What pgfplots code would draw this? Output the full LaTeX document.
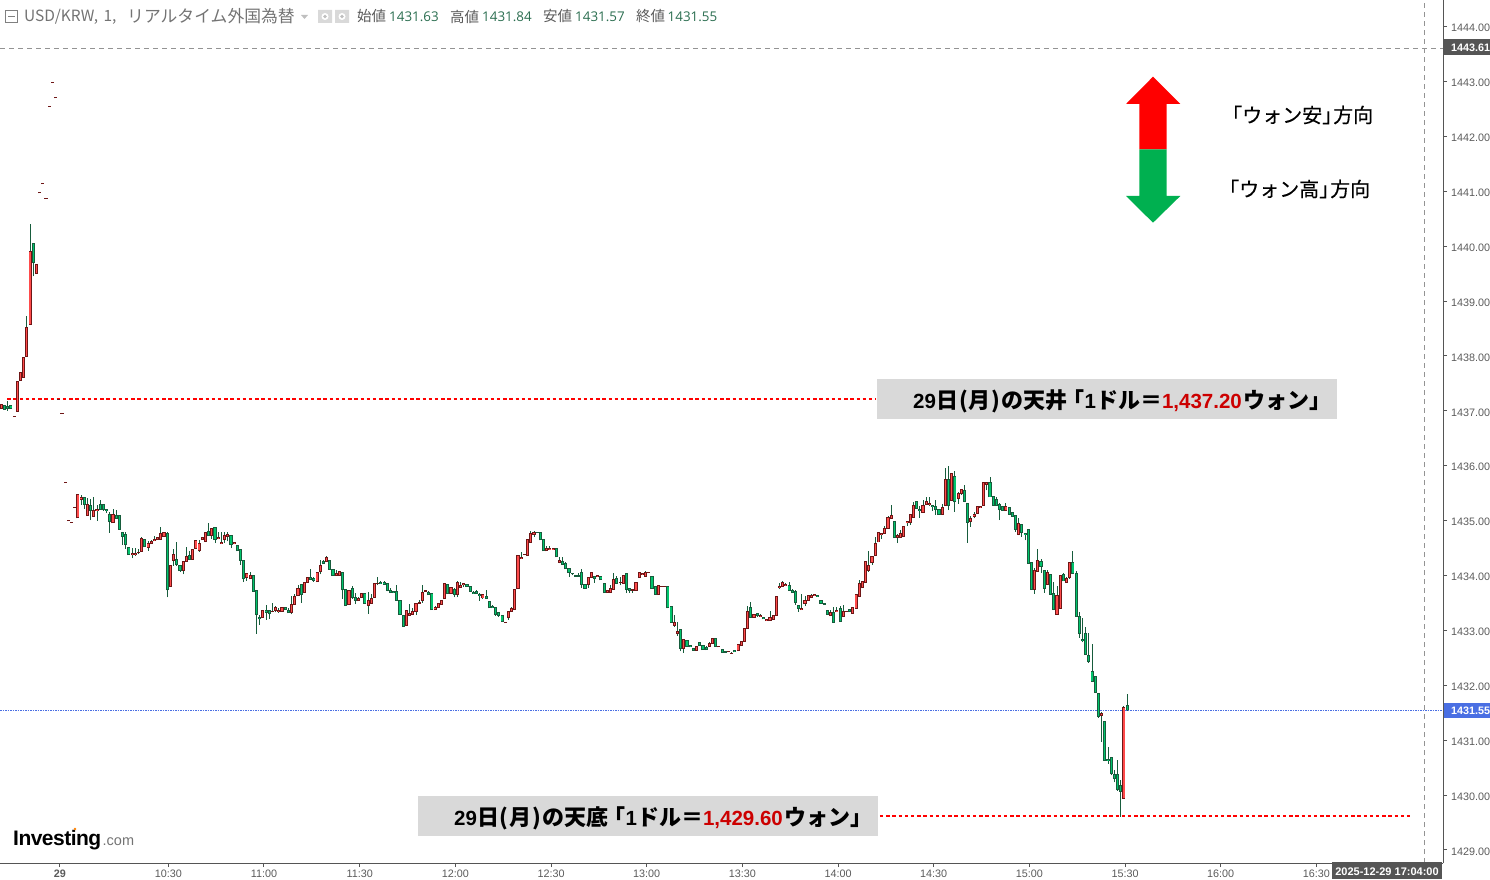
\documentclass[border=0pt]{standalone}
\usepackage{fontspec}
\usepackage{pgfplots}
\usepackage{pgfplotstable}
\pgfplotsset{compat=1.18}
\setmainfont{Liberation Sans}
\newfontfamily\lat{Liberation Sans}
\newfontfamily\hdr{Open Sans}
\newfontfamily\logofont{Liberation Sans}[BoldFeatures={LetterSpace=-2.5}]
\newfontfamily\jp{Noto Sans CJK JP}
\newfontfamily\jpm{Noto Sans CJK JP}[FakeBold=0.3]

\definecolor{wick}{HTML}{175C3C}
\definecolor{upedge}{HTML}{6E1616}
\definecolor{upfill}{HTML}{FF4B4B}
\definecolor{downedge}{HTML}{175C3C}
\definecolor{downfill}{HTML}{00C46C}
\definecolor{axisgrey}{HTML}{555555}
\definecolor{labelgrey}{HTML}{5A5A5A}
\definecolor{bandgrey}{HTML}{D9D9D9}
\definecolor{pricered}{HTML}{CC0000}
\definecolor{lastblue}{HTML}{4A6FE3}
\definecolor{ohlcgreen}{HTML}{2B6E50}
\definecolor{arrowgreen}{HTML}{00B050}

\newcommand\latb[1]{{\lat\bfseries\fontsize{20.5}{24}\selectfont #1}}
% text of the two grey bands: word, price
\newcommand\bandtext[2]{\fontsize{22}{24}\selectfont\jp\bfseries\latb{29}日\hspace{1pt}(\hspace{1pt}月\hspace{1pt})\hspace{1pt}の#1\hspace{-5pt}「\latb{1}ドル＝\textcolor{pricered}{\latb{#2}}\hspace{2pt}ウォン」}

% x = minutes after 10:30, columns: open high low close
% rising candles (red on this chart)
\pgfplotstableread{
x o h l c
-52 1437.04 1437.12 1437.04 1437.12
-48 1436.90 1436.90 1436.90 1436.90
-47 1436.99 1437.54 1436.99 1437.54
-46 1437.55 1437.70 1437.55 1437.70
-45 1437.61 1437.98 1437.61 1437.98
-44 1437.99 1438.72 1437.99 1438.52
-43 1438.57 1440.41 1438.57 1439.91
-41 1439.50 1439.67 1439.50 1439.67
-40 1440.97 1440.97 1440.97 1440.97
-39 1441.14 1441.14 1441.14 1441.14
-38 1440.87 1440.87 1440.87 1440.87
-37 1442.55 1442.55 1442.55 1442.55
-36 1442.98 1442.98 1442.98 1442.98
-35 1442.70 1442.70 1442.70 1442.70
-34 1437.21 1437.21 1437.21 1437.21
-33 1436.96 1436.96 1436.96 1436.96
-32 1435.70 1435.70 1435.70 1435.70
-31 1435.00 1435.00 1435.00 1435.00
-30 1434.97 1434.97 1434.97 1434.97
-29 1435.24 1435.24 1435.24 1435.24
-28 1435.05 1435.48 1435.05 1435.48
-27 1435.38 1435.46 1435.29 1435.43
-25 1435.09 1435.41 1435.09 1435.30
-23 1435.07 1435.43 1435.07 1435.19
-22 1435.18 1435.29 1435.00 1435.21
-17 1434.96 1435.21 1434.96 1435.12
-11 1434.38 1434.50 1434.31 1434.40
-10 1434.38 1434.50 1434.36 1434.40
-9 1434.41 1434.48 1434.39 1434.42
-8 1434.44 1434.70 1434.44 1434.68
-6 1434.51 1434.63 1434.45 1434.58
-5 1434.58 1434.65 1434.58 1434.62
-4 1434.63 1434.72 1434.63 1434.66
-3 1434.65 1434.70 1434.65 1434.70
-2 1434.66 1434.89 1434.66 1434.77
-1 1434.71 1434.80 1434.71 1434.79
1 1433.80 1434.20 1433.80 1434.19
2 1434.27 1434.48 1434.18 1434.39
5 1434.09 1434.26 1434.02 1434.26
6 1434.26 1434.52 1434.26 1434.35
8 1434.30 1434.48 1434.30 1434.48
9 1434.49 1434.64 1434.49 1434.64
10 1434.45 1434.65 1434.43 1434.59
11 1434.65 1434.71 1434.65 1434.70
12 1434.62 1434.80 1434.61 1434.79
14 1434.73 1434.86 1434.67 1434.86
16 1434.67 1434.80 1434.66 1434.70
17 1434.58 1434.80 1434.58 1434.61
18 1434.65 1434.79 1434.59 1434.72
19 1434.71 1434.80 1434.62 1434.75
21 1434.58 1434.61 1434.58 1434.61
25 1433.96 1434.04 1433.90 1434.04
26 1433.94 1434.06 1433.94 1434.00
30 1433.23 1433.38 1433.23 1433.37
33 1433.34 1433.50 1433.33 1433.35
34 1433.36 1433.44 1433.33 1433.42
35 1433.35 1433.41 1433.32 1433.37
36 1433.34 1433.42 1433.34 1433.42
39 1433.32 1433.63 1433.29 1433.47
40 1433.47 1433.66 1433.47 1433.62
41 1433.63 1433.82 1433.63 1433.77
43 1433.69 1433.89 1433.69 1433.88
44 1433.87 1433.97 1433.87 1433.97
47 1433.89 1434.07 1433.89 1434.06
48 1434.07 1434.28 1434.02 1434.19
50 1434.25 1434.36 1434.25 1434.33
53 1434.00 1434.10 1434.00 1434.03
54 1434.00 1434.08 1434.00 1434.07
57 1433.47 1433.73 1433.47 1433.73
60 1433.54 1433.60 1433.54 1433.58
61 1433.60 1433.67 1433.60 1433.67
63 1433.45 1433.70 1433.30 1433.55
64 1433.49 1433.66 1433.49 1433.58
65 1433.60 1433.87 1433.60 1433.86
66 1433.85 1433.97 1433.82 1433.86
75 1433.09 1433.38 1433.09 1433.37
76 1433.28 1433.48 1433.28 1433.30
77 1433.29 1433.40 1433.29 1433.35
78 1433.34 1433.50 1433.28 1433.49
79 1433.49 1433.55 1433.49 1433.50
80 1433.54 1433.83 1433.50 1433.69
81 1433.71 1433.72 1433.71 1433.72
84 1433.38 1433.44 1433.38 1433.42
85 1433.41 1433.49 1433.41 1433.49
86 1433.47 1433.55 1433.47 1433.55
87 1433.58 1433.86 1433.58 1433.86
89 1433.67 1433.79 1433.67 1433.79
91 1433.65 1433.90 1433.60 1433.88
92 1433.78 1433.88 1433.78 1433.81
93 1433.83 1433.86 1433.79 1433.86
99 1433.59 1433.66 1433.57 1433.66
106 1433.14 1433.15 1433.14 1433.15
107 1433.23 1433.35 1433.19 1433.35
108 1433.35 1433.42 1433.35 1433.39
109 1433.38 1433.75 1433.38 1433.75
110 1433.76 1434.37 1433.76 1434.37
111 1434.31 1434.42 1434.31 1434.33
112 1434.38 1434.39 1434.38 1434.39
113 1434.36 1434.67 1434.36 1434.65
114 1434.60 1434.81 1434.60 1434.77
115 1434.75 1434.81 1434.70 1434.78
119 1434.45 1434.53 1434.45 1434.50
120 1434.48 1434.54 1434.48 1434.50
121 1434.48 1434.51 1434.47 1434.50
123 1434.24 1434.33 1434.22 1434.28
132 1433.84 1433.97 1433.78 1433.97
133 1433.97 1434.06 1433.97 1434.06
135 1433.98 1434.01 1433.98 1434.00
138 1433.69 1433.72 1433.69 1433.72
139 1433.69 1433.83 1433.69 1433.76
140 1433.75 1434.05 1433.75 1433.93
142 1433.87 1433.97 1433.82 1433.88
143 1433.86 1434.00 1433.86 1434.00
146 1433.73 1433.74 1433.69 1433.74
147 1433.73 1433.88 1433.73 1433.88
148 1433.97 1434.06 1433.97 1434.06
149 1434.02 1434.04 1434.02 1434.04
150 1433.99 1434.08 1433.99 1434.06
151 1434.05 1434.06 1434.05 1434.06
154 1433.66 1433.82 1433.66 1433.82
155 1433.80 1433.80 1433.80 1433.80
156 1433.80 1433.80 1433.80 1433.80
159 1433.09 1433.28 1433.07 1433.15
160 1432.94 1433.16 1432.90 1432.98
162 1432.67 1432.83 1432.59 1432.83
166 1432.64 1432.71 1432.64 1432.71
170 1432.71 1432.78 1432.71 1432.76
171 1432.76 1432.86 1432.76 1432.86
173 1432.70 1432.71 1432.70 1432.71
176 1432.61 1432.62 1432.61 1432.62
177 1432.58 1432.61 1432.58 1432.58
179 1432.63 1432.75 1432.63 1432.75
180 1432.72 1432.80 1432.72 1432.80
181 1432.80 1433.03 1432.80 1433.03
182 1433.04 1433.45 1433.04 1433.35
184 1433.24 1433.29 1433.24 1433.29
186 1433.26 1433.30 1433.25 1433.28
188 1433.18 1433.20 1433.18 1433.20
189 1433.18 1433.35 1433.18 1433.24
190 1433.20 1433.27 1433.20 1433.27
191 1433.27 1433.62 1433.27 1433.62
192 1433.78 1433.87 1433.75 1433.80
193 1433.80 1433.90 1433.80 1433.88
194 1433.82 1433.86 1433.82 1433.84
199 1433.38 1433.67 1433.38 1433.40
200 1433.49 1433.63 1433.44 1433.54
201 1433.55 1433.65 1433.55 1433.64
202 1433.60 1433.66 1433.60 1433.63
203 1433.64 1433.66 1433.64 1433.66
208 1433.27 1433.37 1433.27 1433.32
210 1433.34 1433.43 1433.34 1433.37
212 1433.25 1433.46 1433.25 1433.35
213 1433.34 1433.35 1433.34 1433.35
215 1433.31 1433.42 1433.31 1433.42
216 1433.40 1433.66 1433.40 1433.65
217 1433.62 1433.92 1433.62 1433.86
218 1433.78 1433.89 1433.78 1433.89
219 1433.88 1434.26 1433.88 1434.26
220 1434.09 1434.45 1434.07 1434.19
221 1434.23 1434.35 1434.20 1434.35
222 1434.36 1434.70 1434.36 1434.59
223 1434.61 1434.79 1434.61 1434.79
224 1434.75 1434.77 1434.67 1434.77
225 1434.77 1434.90 1434.77 1434.86
226 1434.86 1435.09 1434.86 1435.06
227 1435.04 1435.29 1435.04 1435.10
229 1434.69 1434.76 1434.59 1434.73
230 1434.70 1434.83 1434.70 1434.76
231 1434.71 1434.90 1434.71 1434.90
232 1434.96 1434.98 1434.91 1434.98
233 1434.96 1435.12 1434.92 1435.12
234 1435.06 1435.34 1435.06 1435.28
237 1435.15 1435.38 1435.15 1435.28
238 1435.29 1435.43 1435.29 1435.34
239 1435.30 1435.43 1435.27 1435.32
243 1435.12 1435.30 1435.12 1435.24
244 1435.28 1435.96 1435.28 1435.75
246 1435.37 1435.86 1435.37 1435.86
248 1435.40 1435.52 1435.31 1435.49
249 1435.50 1435.58 1435.47 1435.56
252 1434.98 1435.09 1434.89 1435.04
253 1435.07 1435.15 1435.04 1435.12
254 1435.13 1435.26 1435.13 1435.26
255 1435.24 1435.26 1435.24 1435.26
256 1435.28 1435.69 1435.28 1435.69
257 1435.66 1435.69 1435.55 1435.69
263 1435.19 1435.32 1435.19 1435.26
267 1434.75 1435.04 1434.73 1434.95
272 1433.75 1434.13 1433.67 1434.10
273 1434.07 1434.49 1434.07 1434.28
276 1433.84 1434.10 1433.84 1434.06
279 1433.29 1433.81 1433.29 1433.64
280 1433.40 1434.00 1433.40 1434.00
282 1433.88 1433.97 1433.88 1433.95
283 1433.97 1434.24 1433.94 1434.24
293 1431.45 1431.51 1430.97 1431.49
300 1429.94 1431.62 1429.94 1431.60
}\upbars

% falling candles (green on this chart)
\pgfplotstableread{
x o h l c
-51 1437.09 1437.09 1437.02 1437.03
-50 1437.08 1437.17 1437.00 1437.04
-49 1437.09 1437.09 1437.04 1437.04
-42 1440.04 1440.04 1439.45 1439.70
-26 1435.43 1435.43 1435.22 1435.29
-24 1435.28 1435.40 1435.01 1435.18
-21 1435.30 1435.38 1435.20 1435.20
-20 1435.30 1435.30 1435.18 1435.21
-19 1435.21 1435.21 1435.14 1435.19
-18 1435.12 1435.15 1434.78 1434.98
-16 1435.10 1435.20 1435.04 1435.04
-15 1435.10 1435.10 1434.84 1434.84
-14 1434.79 1434.79 1434.56 1434.71
-13 1434.74 1434.80 1434.49 1434.56
-12 1434.51 1434.51 1434.38 1434.38
-7 1434.66 1434.66 1434.52 1434.52
0 1434.77 1434.79 1433.60 1433.74
3 1434.30 1434.61 1434.18 1434.20
4 1434.19 1434.20 1434.07 1434.09
7 1434.37 1434.44 1434.28 1434.30
13 1434.81 1434.96 1434.72 1434.72
15 1434.88 1434.88 1434.59 1434.66
20 1434.72 1434.72 1434.50 1434.56
22 1434.54 1434.56 1434.45 1434.45
23 1434.47 1434.48 1434.20 1434.28
24 1434.28 1434.28 1433.88 1433.94
27 1434.00 1434.00 1433.71 1433.71
28 1433.73 1433.73 1432.94 1433.29
29 1433.24 1433.28 1433.10 1433.21
31 1433.36 1433.46 1433.19 1433.33
32 1433.37 1433.37 1433.21 1433.30
37 1433.42 1433.42 1433.38 1433.38
38 1433.37 1433.40 1433.32 1433.32
42 1433.84 1433.84 1433.50 1433.65
45 1433.97 1434.11 1433.92 1433.93
46 1433.94 1433.97 1433.89 1433.91
49 1434.26 1434.28 1434.22 1434.22
51 1434.28 1434.28 1434.11 1434.11
52 1434.11 1434.11 1434.00 1434.00
55 1434.06 1434.06 1433.57 1433.74
56 1433.74 1433.75 1433.45 1433.45
58 1433.77 1433.81 1433.57 1433.60
59 1433.60 1433.68 1433.48 1433.55
62 1433.67 1433.67 1433.49 1433.49
67 1433.88 1433.90 1433.85 1433.85
68 1433.88 1433.90 1433.83 1433.84
69 1433.86 1433.86 1433.71 1433.73
70 1433.73 1433.77 1433.69 1433.69
71 1433.71 1433.71 1433.69 1433.69
72 1433.71 1433.83 1433.55 1433.55
73 1433.55 1433.55 1433.29 1433.29
74 1433.27 1433.27 1433.07 1433.07
82 1433.69 1433.72 1433.65 1433.65
83 1433.67 1433.67 1433.38 1433.38
88 1433.84 1433.84 1433.67 1433.67
90 1433.75 1433.77 1433.60 1433.65
94 1433.84 1433.84 1433.80 1433.80
95 1433.80 1433.80 1433.71 1433.71
96 1433.69 1433.72 1433.67 1433.67
97 1433.71 1433.74 1433.67 1433.67
98 1433.66 1433.68 1433.54 1433.64
100 1433.62 1433.74 1433.58 1433.58
101 1433.53 1433.53 1433.41 1433.41
102 1433.43 1433.46 1433.41 1433.41
103 1433.42 1433.42 1433.27 1433.29
104 1433.33 1433.33 1433.25 1433.27
105 1433.27 1433.27 1433.16 1433.16
116 1434.79 1434.79 1434.78 1434.78
117 1434.79 1434.79 1434.65 1434.65
118 1434.65 1434.65 1434.45 1434.45
122 1434.50 1434.50 1434.34 1434.34
124 1434.26 1434.33 1434.20 1434.20
125 1434.22 1434.25 1434.12 1434.12
126 1434.12 1434.12 1433.98 1434.05
127 1434.04 1434.04 1434.00 1434.03
128 1434.00 1434.00 1433.99 1433.99
129 1434.00 1434.04 1433.99 1433.99
130 1434.06 1434.11 1433.77 1433.84
131 1433.84 1433.84 1433.77 1433.77
134 1433.99 1433.99 1433.87 1433.94
136 1433.99 1433.99 1433.92 1433.92
137 1433.86 1433.86 1433.69 1433.69
141 1433.95 1434.00 1433.86 1433.86
144 1434.04 1434.04 1433.68 1433.75
145 1433.76 1433.76 1433.69 1433.73
152 1433.99 1433.99 1433.77 1433.77
153 1433.80 1433.80 1433.66 1433.66
157 1433.80 1433.80 1433.40 1433.41
158 1433.43 1433.43 1433.15 1433.15
161 1433.01 1433.01 1432.62 1432.67
163 1432.81 1432.81 1432.71 1432.71
164 1432.73 1432.73 1432.70 1432.70
165 1432.67 1432.67 1432.64 1432.64
167 1432.78 1432.78 1432.72 1432.72
168 1432.72 1432.72 1432.65 1432.65
169 1432.68 1432.71 1432.65 1432.65
172 1432.86 1432.86 1432.71 1432.71
174 1432.65 1432.67 1432.60 1432.60
175 1432.61 1432.61 1432.60 1432.60
178 1432.64 1432.64 1432.61 1432.61
183 1433.42 1433.52 1433.24 1433.24
185 1433.31 1433.31 1433.24 1433.27
187 1433.24 1433.24 1433.21 1433.21
195 1433.82 1433.88 1433.73 1433.73
196 1433.73 1433.75 1433.69 1433.69
197 1433.71 1433.74 1433.47 1433.51
198 1433.45 1433.46 1433.34 1433.40
204 1433.64 1433.64 1433.62 1433.62
205 1433.55 1433.55 1433.49 1433.49
206 1433.49 1433.49 1433.48 1433.48
207 1433.37 1433.37 1433.29 1433.29
209 1433.32 1433.43 1433.15 1433.15
211 1433.39 1433.45 1433.16 1433.16
214 1433.38 1433.38 1433.34 1433.34
228 1434.99 1434.99 1434.69 1434.69
235 1435.35 1435.35 1435.22 1435.22
236 1435.21 1435.26 1435.05 1435.19
240 1435.28 1435.28 1435.18 1435.26
241 1435.26 1435.38 1435.11 1435.21
242 1435.20 1435.20 1435.12 1435.12
245 1435.75 1436.00 1435.19 1435.28
247 1435.81 1435.91 1435.16 1435.34
250 1435.55 1435.65 1435.33 1435.35
251 1435.32 1435.32 1434.60 1434.97
258 1435.69 1435.79 1435.43 1435.43
259 1435.43 1435.43 1435.28 1435.28
260 1435.39 1435.43 1435.28 1435.28
261 1435.30 1435.32 1435.01 1435.20
262 1435.26 1435.26 1435.19 1435.19
264 1435.24 1435.24 1435.12 1435.12
265 1435.15 1435.15 1435.08 1435.08
266 1435.09 1435.09 1434.80 1434.84
268 1434.93 1434.93 1434.71 1434.78
269 1434.77 1434.77 1434.64 1434.75
270 1434.84 1434.84 1434.22 1434.22
271 1434.24 1434.24 1433.75 1433.75
274 1434.26 1434.30 1434.05 1434.17
275 1434.10 1434.10 1433.69 1433.77
277 1434.02 1434.02 1433.66 1433.66
278 1433.68 1433.88 1433.38 1433.38
281 1434.02 1434.04 1433.90 1433.90
284 1434.24 1434.45 1434.04 1434.04
285 1434.04 1434.08 1433.26 1433.26
286 1433.26 1433.33 1432.87 1432.94
287 1432.84 1433.22 1432.78 1432.82
288 1432.95 1433.07 1432.56 1432.56
289 1432.55 1432.95 1432.41 1432.43
290 1432.25 1432.76 1432.07 1432.07
291 1432.16 1432.16 1431.87 1431.87
292 1431.85 1431.85 1431.41 1431.43
294 1431.34 1431.34 1430.63 1430.63
295 1430.65 1430.87 1430.57 1430.63
296 1430.69 1430.69 1430.36 1430.39
297 1430.37 1430.45 1430.23 1430.30
298 1430.37 1430.64 1430.08 1430.10
299 1430.17 1430.28 1429.61 1430.07
301 1431.63 1431.84 1431.54 1431.55
}\downbars

\begin{document}
\begin{tikzpicture}
\useasboundingbox (0,-16pt) rectangle (1490pt,863pt);
\begin{axis}[
    scale only axis,
    width=1443pt, height=863pt,
    xmin=-52.43, xmax=400.06,
    ymin=1428.763, ymax=1444.483,
    axis x line*=bottom,
    axis y line*=right,
    axis line style={-, color=axisgrey, line width=1pt},
    tick align=outside,
    major tick length=4pt,
    tick style={color=axisgrey, line width=1pt},
    xtick={-33.65,0.35,30.35,60.35,90.35,120.35,150.35,180.35,210.35,240.35,270.35,300.35,330.35,360.35,394.15},
    xticklabels={\textbf{29},10:30,11:00,11:30,12:00,12:30,13:00,13:30,14:00,14:30,15:00,15:30,16:00,16:30,},
    ytick={1429,1430,...,1444},
    /pgf/number format/.cd, fixed, fixed zerofill, precision=2, 1000 sep={}, assume math mode=true,
    /pgfplots/.cd,
    ticklabel style={font=\fontsize{10.8}{12}\selectfont, text=labelgrey},
    xticklabel style={yshift=0.5pt},
    yticklabel style={anchor=west, xshift=0.5pt, yshift=-1.5pt},
]
% reference lines
\addplot[color=gray!85, line width=0.8pt, dash pattern=on 5pt off 4pt] coordinates {(-52.43,1443.61) (400.06,1443.61)};
\addplot[color=gray!85, line width=0.8pt, dash pattern=on 5pt off 4pt] coordinates {(394.15,1428.763) (394.15,1444.483)};
\addplot[color=lastblue, line width=0.8pt, dash pattern=on 1.5pt off 1pt] coordinates {(-52.43,1431.55) (400.06,1431.55)};
\addplot[color=red, line width=2pt, dash pattern=on 3.4pt off 2.8pt] coordinates {(-50.2,1437.21) (222.3,1437.21)};
\addplot[color=red, line width=2pt, dash pattern=on 3.4pt off 2.8pt] coordinates {(223.5,1429.62) (390.3,1429.62)};
% wicks
\addplot[color=wick, line width=0.9pt, mark=none, quiver={u=0, v=\thisrow{h}-\thisrow{l}}] table[x=x, y=l] {\upbars};
\addplot[color=wick, line width=0.9pt, mark=none, quiver={u=0, v=\thisrow{h}-\thisrow{l}}] table[x=x, y=l] {\downbars};
% candle bodies, edge then fill
\addplot[color=upedge, line width=3.1pt, mark=none, quiver={u=0, v=\thisrow{c}-\thisrow{o}+0.018}] table[x=x, y expr=\thisrow{o}-0.009] {\upbars};
\addplot[color=upfill, line width=1.2pt, mark=none, quiver={u=0, v={max(\thisrow{c}-\thisrow{o}-0.018,0)}}] table[x=x, y expr=\thisrow{o}+0.009] {\upbars};
\addplot[color=downedge, line width=3.1pt, mark=none, quiver={u=0, v=\thisrow{o}-\thisrow{c}+0.018}] table[x=x, y expr=\thisrow{c}-0.009] {\downbars};
\addplot[color=downfill, line width=1.2pt, mark=none, quiver={u=0, v={max(\thisrow{o}-\thisrow{c}-0.018,0)}}] table[x=x, y expr=\thisrow{c}+0.009] {\downbars};
\end{axis}

% annotations, in picture pixels measured from the top left
\begin{scope}[x=1pt, y=-1pt, yshift=863pt]
% header
\draw[color=gray, line width=0.8pt] (5.5,10.5) rectangle (17.5,22.5) (8,16.5) -- (15,16.5);
\node[anchor=west, inner sep=0pt, text=labelgrey!85] at (24,16.5) {\jp\fontsize{15.5}{16}\selectfont USD/KRW,\hspace{2pt} 1,};
\node[anchor=west, inner sep=0pt, text=labelgrey!85] at (127,16.5) {\jp\fontsize{16.8}{17}\selectfont リアルタイム外国為替};
\fill[color=gray!50] (301,15) -- (308,15) -- (304.5,19) -- cycle;
\fill[color=gray!30] (318,10) rectangle (332,23) (335,10) rectangle (349,23);
\fill[color=white] (325,16.5) circle (3.5pt) (342,16.5) circle (3.5pt);
\fill[color=gray!50] (325,16.5) circle (1.8pt) (342,16.5) circle (1.8pt);
\foreach \lx/\lab/\vx/\val in {357/始値/389/1431.63, 450/高値/482/1431.84, 543/安値/575/1431.57, 636/終値/667.5/1431.55}{
  \node[anchor=west, inner sep=0pt, text=labelgrey] at (\lx,16.5) {\jp\fontsize{14.5}{15}\selectfont \lab};
  \node[anchor=west, inner sep=0pt, text=ohlcgreen] at (\vx,16.5) {\hdr\fontsize{13.4}{15}\selectfont \val};
}
% price flags
\fill[color=axisgrey] (1443.5,39.5) rectangle (1490,55.5);
\node[anchor=west, inner sep=0pt, text=white] at (1451,47.5) {\fontsize{10.8}{12}\selectfont\bfseries 1443.61};
\fill[color=lastblue] (1443.5,703) rectangle (1490,718);
\node[anchor=west, inner sep=0pt, text=white] at (1451,711) {\fontsize{10.8}{12}\selectfont\bfseries 1431.55};
\fill[color=axisgrey] (1332,862) rectangle (1442,879);
\node[inner sep=0pt, text=white] at (1387,871.5) {\fontsize{11}{12}\selectfont\bfseries 2025-12-29 17:04:00};
% direction arrows
\fill[color=red] (1153,76.7) -- (1180.3,104) -- (1166.7,104) -- (1166.7,149.3) -- (1139.3,149.3) -- (1139.3,104) -- (1126,104) -- cycle;
\fill[color=arrowgreen] (1153,222.7) -- (1180.3,196) -- (1166.7,196) -- (1166.7,149.3) -- (1139.3,149.3) -- (1139.3,196) -- (1126,196) -- cycle;
\node[anchor=west, inner sep=0pt] at (1222,115) {\jpm\fontsize{20}{22}\selectfont 「ウォン安」\hspace{-9pt}方向};
\node[anchor=west, inner sep=0pt] at (1219,189) {\jpm\fontsize{20}{22}\selectfont 「ウォン高」\hspace{-9pt}方向};
% band labels
\fill[color=bandgrey] (877,379) rectangle (1337,419);
\node[anchor=west, inner sep=0pt] at (913,401) {\bandtext{天井}{1,437.20}};
\fill[color=bandgrey] (418,796) rectangle (878,836);
\node[anchor=west, inner sep=0pt] at (454,818) {\bandtext{天底}{1,429.60}};
% logo
\node[anchor=base west, inner sep=0pt] at (13,845) {\logofont\fontsize{21}{21}\selectfont\bfseries Investing};
\node[anchor=base west, inner sep=0pt, text=gray!90!black] at (102.5,845) {\fontsize{14.5}{16}\selectfont .com};
\fill[color=orange] (75,829) circle (1.4pt);
\end{scope}
\end{tikzpicture}
\end{document}
